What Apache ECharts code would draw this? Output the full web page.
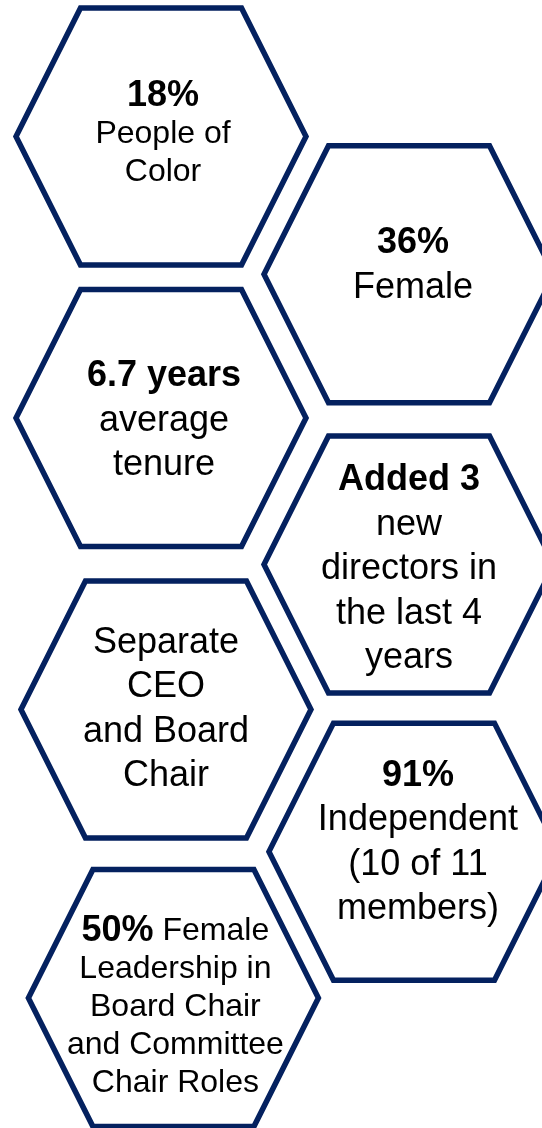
<!DOCTYPE html>
<html>
<head>
<meta charset="utf-8">
<script src="https://cdn.jsdelivr.net/npm/echarts@6/dist/echarts.min.js"></script>
<style>
  html, body { margin: 0; padding: 0; background: #fff; }
  #chart { width: 542px; height: 1128px; }
</style>
</head>
<body>
<div id="chart"></div>
<script>
// Board composition — honeycomb of facts

// Headline (bold) part of each cell, '' when there is none
const headlines = ['18%', '36%', '6.7 years', 'Added 3', '', '91%', '50%'];
// Regular text lines under the headline
const bodyLines = [
  ['People of', 'Color'],
  ['Female'],
  ['average', 'tenure'],
  ['new', 'directors in', 'the last 4', 'years'],
  ['Separate', 'CEO', 'and Board', 'Chair'],
  ['Independent', '(10 of 11', 'members)'],
  ['Female', 'Leadership in', 'Board Chair', 'and Committee', 'Chair Roles'],
];
// Headline sits on the same line as the first body line
const inlineHead = [false, false, false, false, false, false, true];
// Honeycomb slot of each cell (column, half-row)
const cellCol = [0, 1, 0, 1, 0.02, 1.02, 0.05];
const cellRow = [0, 0.96, 1.96, 2.98, 3.99, 4.98, 6.0];

// Layout / style
const NAVY = '#04215f';
const FONT = '"Liberation Sans", Arial, sans-serif';
const HALF_W = 145, HALF_H = 128.5, TOP_HALF = 80.5;
const bodySize = [32, 36, 36, 36, 36, 36, 32];
const textNudge = [[2, -2], [4, -9], [3, 3], [0, 5], [0, 0], [4, -9], [2, 9]];

function cellText(i) {
  const lines = bodyLines[i].map(s => `{r|${s}}`);
  const head = headlines[i];
  if (head) {
    if (inlineHead[i]) lines[0] = `{b|${head}}{r| ${bodyLines[i][0]}}`;
    else lines.unshift(`{b|${head}}`);
  }
  return lines.join('\n');
}

function renderItem(params, api) {
  const i = params.dataIndex;
  const [x, y] = api.coord([api.value(0), api.value(1)]);
  const pts = [
    [x - HALF_W, y], [x - TOP_HALF, y - HALF_H], [x + TOP_HALF, y - HALF_H],
    [x + HALF_W, y], [x + TOP_HALF, y + HALF_H], [x - TOP_HALF, y + HALF_H],
  ];
  const size = bodySize[i];
  const lh = size === 32 ? 38 : 44.5;
  return {
    type: 'group',
    children: [
      {
        type: 'polygon',
        shape: { points: pts },
        style: { fill: '#fff', stroke: NAVY, lineWidth: 5.5, lineJoin: 'miter' },
      },
      {
        type: 'text',
        x: x + textNudge[i][0],
        y: y + textNudge[i][1],
        style: {
          text: cellText(i),
          align: 'center',
          verticalAlign: 'middle',
          fill: '#000',
          rich: {
            b: { fontFamily: FONT, fontWeight: 'bold', fontSize: 36, lineHeight: lh, fill: '#000' },
            r: { fontFamily: FONT, fontSize: size, lineHeight: lh, fill: '#000' },
          },
        },
      },
    ],
  };
}

const chart = echarts.init(document.getElementById('chart'), null, { renderer: 'canvas' });
chart.setOption({
  animation: false,
  backgroundColor: '#fff',
  grid: { left: 0, right: 0, top: 0, bottom: 0 },
  xAxis: { type: 'value', min: -161 / 248, max: (542 - 161) / 248, show: false },
  yAxis: { type: 'value', inverse: true, min: -136.5 / 143.6, max: (1128 - 136.5) / 143.6, show: false },
  series: [{
    type: 'custom',
    renderItem,
    data: cellCol.map((col, i) => [col, cellRow[i]]),
  }],
});
</script>
</body>
</html>
